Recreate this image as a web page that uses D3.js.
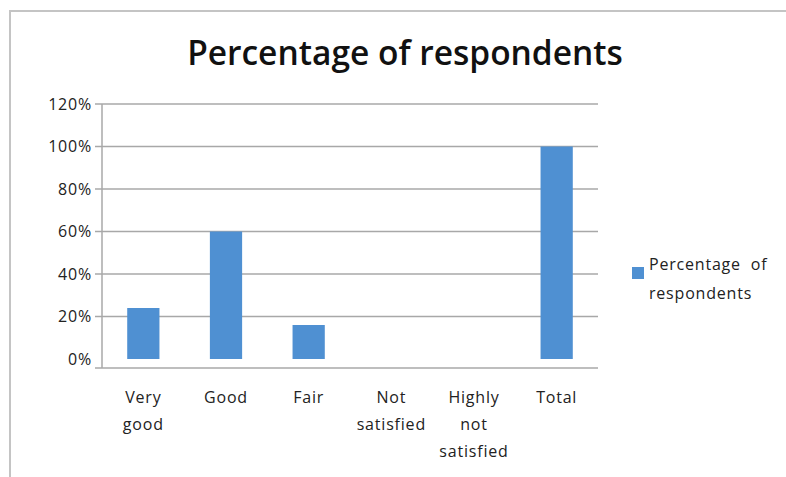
<!DOCTYPE html>
<html lang="en">
<head>
<meta charset="utf-8">
<title>Percentage of respondents</title>
<script src="https://cdnjs.cloudflare.com/ajax/libs/d3/7.8.5/d3.min.js"></script>
<style>
  body { margin: 0; background: #fff; }
  text { font-family: "Open Sans", sans-serif; fill: #222; font-variant-ligatures: none; }
</style>
</head>
<body>
<div id="chart"></div>
<script>
// data
const categories = ["Very good", "Good", "Fair", "Not satisfied", "Highly not satisfied", "Total"];
const values = [0.24, 0.60, 0.16, 0, 0, 1.00];
const yTicks = [0, 0.2, 0.4, 0.6, 0.8, 1.0, 1.2];
const seriesName = "Percentage of respondents";

// wrapped label lines, as in the picture
const labelLines = {
  "Very good": ["Very", "good"],
  "Good": ["Good"],
  "Fair": ["Fair"],
  "Not satisfied": ["Not", "satisfied"],
  "Highly not satisfied": ["Highly", "not", "satisfied"],
  "Total": ["Total"]
};

const width = 786;
const height = 477;
const plotLeft = 102;
const plotRight = 598;
const plotTop = 104;
const plotBottom = 359;
const axisLineY = 368;
const barColor = "#4f90d2";
const gridColor = "#a8a8a8";

const svg = d3.select("#chart")
  .append("svg")
  .attr("width", width)
  .attr("height", height);

// frame (only top and left visible)
svg.append("path")
  .attr("d", `M10,${height} L10,11 L${width},11`)
  .attr("fill", "none")
  .attr("stroke", "#c4c4c4")
  .attr("stroke-width", 2);

svg.append("text")
  .attr("x", 405)
  .attr("y", 65)
  .attr("text-anchor", "middle")
  .style("font-size", "33.5px")
  .style("font-weight", "600")
  .style("fill", "#111")
  .text(seriesName);

const x = d3.scaleBand()
  .domain(categories)
  .range([plotLeft, plotRight])
  .paddingInner(0.61)
  .paddingOuter(0.305);

const y = d3.scaleLinear()
  .domain([0, 1.2])
  .range([plotBottom, plotTop]);

// gridlines
svg.append("g")
  .selectAll("line")
  .data(yTicks.filter(d => d > 0))
  .enter()
  .append("line")
    .attr("x1", plotLeft - 7)
    .attr("x2", plotRight)
    .attr("y1", d => y(d))
    .attr("y2", d => y(d))
    .attr("stroke", gridColor)
    .attr("stroke-width", 1.5);

// y axis labels
const yAxis = d3.axisLeft(y)
  .tickValues(yTicks)
  .tickFormat(d3.format(".0%"))
  .tickSize(0)
  .tickPadding(10);

const gy = svg.append("g")
  .attr("transform", "translate(" + plotLeft + ",0)")
  .call(yAxis);
gy.select(".domain").remove();
gy.selectAll("text")
  .style("font-family", "'Open Sans', sans-serif")
  .style("font-size", "16px")
  .style("letter-spacing", "0.8px")
  .attr("fill", "#222");

// axis lines
svg.append("line")
  .attr("x1", plotLeft).attr("x2", plotLeft)
  .attr("y1", y(1.2)).attr("y2", axisLineY)
  .attr("stroke", gridColor).attr("stroke-width", 1.5);
svg.append("line")
  .attr("x1", plotLeft - 7).attr("x2", plotRight)
  .attr("y1", axisLineY).attr("y2", axisLineY)
  .attr("stroke", gridColor).attr("stroke-width", 1.5);

// bars
svg.append("g")
  .selectAll("rect")
  .data(categories.map((c, i) => ({ cat: c, value: values[i] })))
  .enter()
  .append("rect")
    .attr("x", d => x(d.cat))
    .attr("y", d => y(d.value))
    .attr("width", x.bandwidth())
    .attr("height", d => y(0) - y(d.value))
    .attr("fill", barColor);

// category labels
const xl = svg.append("g")
  .selectAll("text")
  .data(categories)
  .enter()
  .append("text")
    .attr("text-anchor", "middle")
    .style("font-size", "16px")
    .style("letter-spacing", "0.8px");
xl.selectAll("tspan")
  .data(d => labelLines[d].map(t => ({ t: t, c: d })))
  .enter()
  .append("tspan")
    .attr("x", d => x(d.c) + x.bandwidth() / 2)
    .attr("y", (d, i) => 403 + i * 27)
    .text(d => d.t);

// legend
const legend = svg.append("g").attr("transform", "translate(632,267)");
legend.append("rect")
  .attr("width", 12).attr("height", 12)
  .attr("fill", barColor);
legend.append("text")
  .attr("x", 17).attr("y", 3)
  .style("font-size", "16px")
  .style("letter-spacing", "0.8px")
  .style("word-spacing", "5px")
  .text("Percentage of");
legend.append("text")
  .attr("x", 17).attr("y", 32)
  .style("font-size", "16px")
  .style("letter-spacing", "0.8px")
  .text("respondents");
</script>
</body>
</html>
